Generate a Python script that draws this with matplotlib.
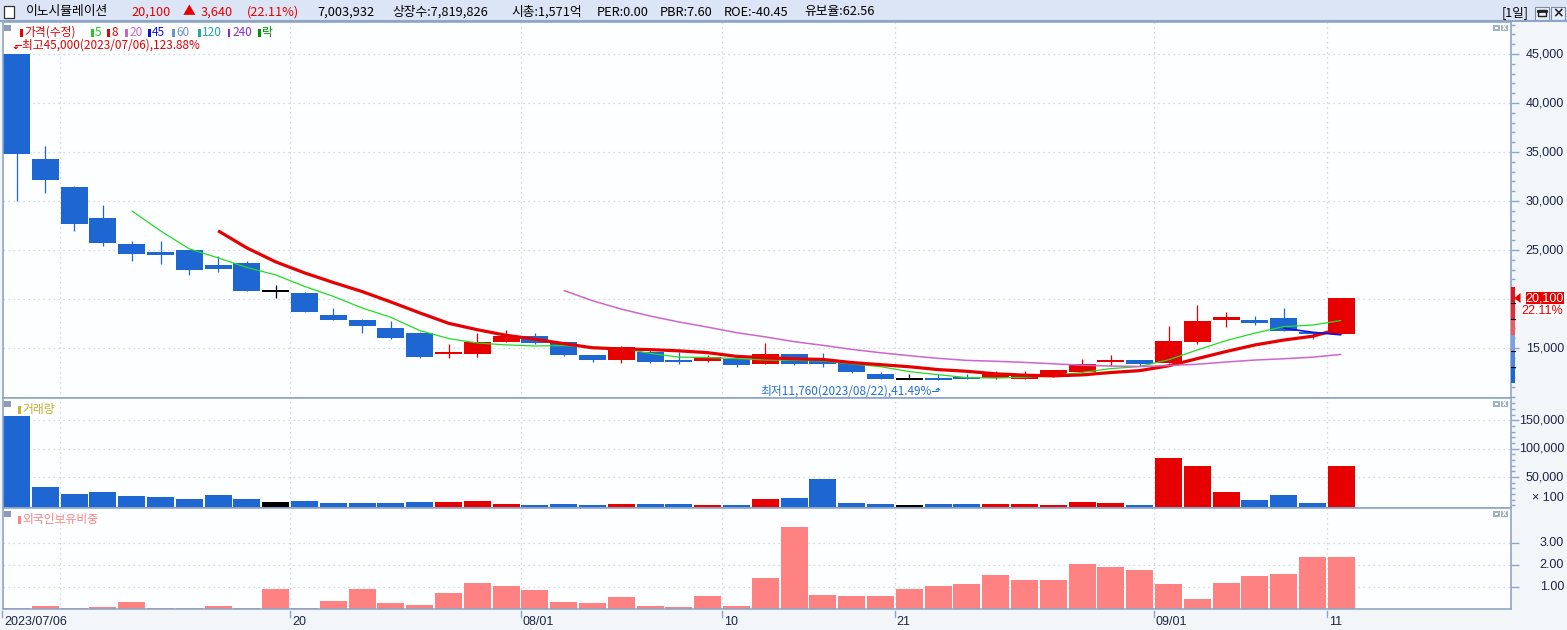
import matplotlib
matplotlib.use('Agg')
import matplotlib.pyplot as plt
from matplotlib.patches import Rectangle, Polygon
from matplotlib.lines import Line2D
from matplotlib.ticker import MultipleLocator, FixedLocator
from matplotlib.transforms import blended_transform_factory as blend
from matplotlib import font_manager as fm
import numpy as np
import pandas as pd

# ---------------- data ----------------
dates = ['07/06', '07/07', '07/10', '07/11', '07/12', '07/13', '07/14', '07/17', '07/18', '07/19',
         '07/20', '07/21', '07/24', '07/25', '07/26', '07/27', '07/28', '07/31', '08/01', '08/02',
         '08/03', '08/04', '08/07', '08/08', '08/09', '08/10', '08/11', '08/14', '08/16', '08/17',
         '08/18', '08/21', '08/22', '08/23', '08/24', '08/25', '08/28', '08/29', '08/30', '08/31',
         '09/01', '09/04', '09/05', '09/06', '09/07', '09/08', '09/11']
open_ = [45000, 34300, 31450, 28250, 25600, 24750, 25000, 23450, 23700, 20800,
         20600, 18350, 17850, 17050, 16550, 14400, 14350, 15650, 16200, 15600,
         14300, 13800, 14600, 13800, 13700, 13900, 13350, 14400, 13700, 13600,
         12350, 11850, 11950, 12050, 11950, 11850, 12000, 12550, 13600, 13800,
         13450, 15600, 17900, 17850, 18050, 16600, 16460]
high = [45000, 35600, 31550, 29600, 25900, 25900, 25000, 24400, 23900, 21400,
        20700, 19100, 17950, 17750, 16600, 15450, 16550, 16850, 16500, 15650,
        14300, 15200, 14800, 14600, 14300, 13900, 15500, 14400, 14500, 13700,
        12550, 12350, 12300, 12350, 12650, 12650, 12750, 13850, 14300, 13800,
        17250, 19400, 18650, 18250, 19100, 16600, 20100]
low = [30000, 30850, 26950, 25450, 23900, 23600, 22500, 22800, 20850, 20150,
       18700, 17900, 16550, 15950, 14000, 14000, 14100, 15600, 15450, 14200,
       13550, 13450, 13450, 13350, 13550, 13050, 13350, 13250, 13050, 12500,
       11850, 11850, 11760, 11800, 11850, 11850, 12000, 12450, 13150, 13150,
       13450, 15450, 17150, 17300, 16750, 15900, 16460]
close = [34850, 32150, 27700, 25750, 24600, 24550, 23000, 23100, 20850, 20800,
         18700, 17900, 17200, 16050, 14100, 14600, 15600, 16250, 15500, 14300,
         13800, 15100, 13550, 13600, 14100, 13250, 14400, 13350, 13350, 12550,
         11850, 11850, 11800, 11850, 12350, 12250, 12750, 13350, 13800, 13400,
         15700, 17750, 18150, 17600, 16750, 16460, 20100]
volume = [158000, 32100, 19600, 23200, 16000, 14300, 10700, 17900, 10700, 5400,
          7100, 3600, 3600, 3600, 5400, 5400, 7100, 1800, 800, 1800,
          800, 1800, 1800, 1800, 800, 800, 10700, 13100, 46400, 3600,
          1800, 600, 1800, 1800, 1800, 1800, 1000, 5400, 3600, 800,
          83900, 69600, 23200, 8900, 17900, 3600, 70040]
foreign = [0.05, 0.12, 0.05, 0.08, 0.30, 0.05, 0.05, 0.12, 0.05, 0.90,
           0.05, 0.37, 0.90, 0.26, 0.17, 0.72, 1.18, 1.04, 0.85, 0.30,
           0.26, 0.53, 0.12, 0.08, 0.58, 0.12, 1.40, 3.71, 0.62, 0.58,
           0.58, 0.89, 1.03, 1.12, 1.53, 1.30, 1.30, 2.03, 1.89, 1.76,
           1.12, 0.44, 1.17, 1.48, 1.58, 2.35, 2.35]
ma_periods = [5, 8, 20, 45]
tick_dates = ['07/06', '07/20', '08/01', '08/10', '08/21', '09/01', '09/11']
tick_labels = ['2023/07/06', '20', '08/01', '10', '21', '09/01', '11']
grid_dates = ['07/10', '07/20', '08/01', '08/10', '08/21', '09/01', '09/11']
price_ticks = [15000, 20000, 25000, 30000, 35000, 40000, 45000]
price_labels = ['15,000', '', '25,000', '30,000', '35,000', '40,000', '45,000']
vol_ticks = [50000, 100000, 150000]
vol_labels = ['50,000', '100,000', '150,000']
fr_ticks = [1, 2, 3]
fr_labels = ['1.00', '2.00', '3.00']
stock_name = '이노시뮬레이션'
header_info = ['7,003,932', '상장수:7,819,826', '시총:1,571억', 'PER:0.00', 'PBR:7.60',
               'ROE:-40.45', '유보율:62.56']
legend_items = ['가격(수정)', '5', '8', '20', '45', '60', '120', '240', '락']

# ---------------- style ----------------
RED = '#e60000'
BLUE = '#1e66d2'
PINK = '#ff8282'
FRAME = '#8ea6c6'
GRID = '#c6ced9'
LABEL = '#1c2448'
KR = ['Noto Sans CJK KR', 'DejaVu Sans']
names = {f.name for f in fm.fontManager.ttflist}
if 'Liberation Sans Narrow' in names:
    NUM = ['Liberation Sans Narrow', 'DejaVu Sans']; NUMS = 10.5
else:
    NUM = ['Liberation Sans', 'DejaVu Sans']; NUMS = 9.0


def has_glyph(family, ch):
    try:
        from fontTools.ttLib import TTFont
        path = fm.findfont(family, fallback_to_default=False)
        return ord(ch) in TTFont(path, fontNumber=0).getBestCmap()
    except Exception:
        return False


W, H = 1567, 630
fig = plt.figure(figsize=(W / 100, H / 100), dpi=100)
fig.patch.set_facecolor('#f3f6f9')


def fx(x):
    return x / W


def fy(y):
    return 1 - y / H


def rect_px(x0, y0, x1, y1, **kw):
    r = Rectangle((fx(x0), fy(y1)), (x1 - x0) / W, (y1 - y0) / H, transform=fig.transFigure, **kw)
    fig.add_artist(r)
    return r


def line_px(x0, y0, x1, y1, **kw):
    fig.add_artist(Line2D([fx(x0), fx(x1)], [fy(y0), fy(y1)], transform=fig.transFigure, **kw))


X0, X1 = 3, 1511
SLOT = 28.8
XC0 = 16.5
XL = (X0 - XC0) / SLOT
XR = (X1 - XC0) / SLOT


def add_ax(y0, y1):
    return fig.add_axes([fx(X0), fy(y1), (X1 - X0) / W, (y1 - y0) / H])


ax_p = add_ax(22, 398)
ax_v = add_ax(398, 508)
ax_o = add_ax(508, 609)

n = len(dates)
x = np.arange(n)
pos = {d: i for i, d in enumerate(dates)}
grid_x = [pos[d] - 0.5 for d in grid_dates]

o = np.array(open_, float); c = np.array(close, float)
h = np.array(high, float); l = np.array(low, float)
cols = np.where(c > o, RED, np.where(c < o, BLUE, 'black'))

for ax in (ax_p, ax_v, ax_o):
    ax.set_facecolor('#fdfeff')
    for s in ax.spines.values():
        s.set_color(FRAME); s.set_linewidth(1.2)
    ax.set_xlim(XL, XR)
    ax.set_xticks(grid_x)
    ax.tick_params(axis='x', length=0, labelbottom=False)
    ax.yaxis.tick_right()
    ax.tick_params(axis='y', which='both', direction='out', colors=FRAME, labelright=False, width=1)
    ax.tick_params(axis='y', which='major', length=6)
    ax.tick_params(axis='y', which='minor', length=3)
    ax.grid(True, which='major', color=GRID, linestyle=(0, (1, 3)), linewidth=0.9)
    ax.set_axisbelow(True)

# ---- price panel ----
ax_p.set_ylim(9900, 48270)
ax_p.yaxis.set_major_locator(FixedLocator(price_ticks))
ax_p.yaxis.set_minor_locator(MultipleLocator(1000))
ax_p.vlines(x, l, h, colors=cols, lw=0.9, zorder=2)
body_h = np.abs(c - o)
min_h = 220
bh = np.maximum(body_h, min_h)
ax_p.bar(x, bh, bottom=np.minimum(o, c) - (bh - body_h) / 2, width=0.94, color=cols, linewidth=0, zorder=2)

s = pd.Series(c)
ma_style = {5: ('#22dd22', 0.9), 8: (RED, 2.3), 20: ('#cc66cc', 1.1), 45: ('#1010e0', 1.2)}
for p in ma_periods:
    col, lw = ma_style[p]
    ax_p.plot(x, s.rolling(p).mean(), color=col, lw=lw, zorder=3, solid_capstyle='butt')

# high / low annotations
ih = int(np.argmax(h)); il = int(np.argmin(l))
last = c[-1]
arr_dn = '⬐' if has_glyph('DejaVu Sans', '⬐') else '↓'
arr_up = '⬏' if has_glyph('DejaVu Sans', '⬏') else '↑'
ax_p.annotate(f'{arr_dn}최고{h[ih]:,.0f}(2023/{dates[ih]}),{(h[ih] - last) / last * 100:.2f}%',
              xy=(ih, h[ih]), xytext=(-4, 9), textcoords='offset pixels', ha='left', va='center',
              color=RED, fontsize=8.5, family=KR, annotation_clip=False)
ax_p.annotate(f'최저{l[il]:,.0f}(2023/{dates[il]}),{(last - l[il]) / last * 100:.2f}%{arr_up}',
              xy=(il, l[il]), xytext=(3, -11), textcoords='offset pixels', ha='right', va='center',
              color='#2a6fd0', fontsize=8.5, family=KR, annotation_clip=False)

# ---- volume ----
VB = -4700
ax_v.set_ylim(VB, 189500)
ax_v.yaxis.set_major_locator(FixedLocator(vol_ticks))
ax_v.yaxis.set_minor_locator(MultipleLocator(10000))
v = np.array(volume, float)
ax_v.bar(x, v - VB, bottom=VB, width=0.94, color=cols, linewidth=0, zorder=2)

# ---- foreign ownership ----
ax_o.set_ylim(0, 4.56)
ax_o.yaxis.set_major_locator(FixedLocator(fr_ticks))
ax_o.yaxis.set_minor_locator(FixedLocator([]))
ax_o.bar(x, foreign, width=0.94, color=PINK, linewidth=0, zorder=2)

# ---- right axis labels ----
XLAB = (1564 - X0) / (X1 - X0)
for ax, tks, labs in ((ax_p, price_ticks, price_labels), (ax_v, vol_ticks, vol_labels),
                      (ax_o, fr_ticks, fr_labels)):
    tr = blend(ax.transAxes, ax.transData)
    for t, lab in zip(tks, labs):
        if lab:
            ax.text(XLAB, t, lab, transform=tr, ha='right', va='center', color=LABEL,
                    fontsize=NUMS, family=NUM, clip_on=False)
ax_v.text(XLAB, 0.09, '× 100', transform=ax_v.transAxes, ha='right', va='center', color=LABEL,
          fontsize=NUMS, family=NUM, clip_on=False)

# ---- x labels ----
trx = blend(ax_o.transData, ax_o.transAxes)
for d, lab in zip(tick_dates, tick_labels):
    xi = pos[d] - 0.5
    ax_o.plot([xi, xi], [-0.02, -0.075], color=FRAME, lw=1, transform=trx, clip_on=False)
    ax_o.text(xi + 0.06, -0.13, lab, transform=trx, ha='left', va='center', color=LABEL,
              fontsize=NUMS, family=NUM, clip_on=False)

# ---- header ----
rect_px(0, 0, W, 21, facecolor='#dbe5f5', edgecolor='none', zorder=0)
line_px(0, 21, W, 21, color=FRAME, lw=1.5)
rect_px(4, 6, 14, 18, facecolor='white', edgecolor='#303030', lw=0.9)
chg = last - c[-2]
hdr = [(26, stock_name, 'black'), (131, f'{last:,.0f}', RED), (183, '▲', RED),
       (201, f'{chg:,.0f}', RED), (247, f'({chg / c[-2] * 100:.2f}%)', RED)]
hx = [317, 392, 511, 597, 660, 724, 804]
hdr += [(xx, t, 'black') for xx, t in zip(hx, header_info)]
for xx, t, col in hdr:
    fig.text(fx(xx), fy(12), t, ha='left', va='center', color=col, fontsize=9.2, family=KR)
fig.text(fx(1502), fy(12.5), '[1일]', ha='left', va='center', color='black', fontsize=9, family=KR)
for bx in (1535, 1551):
    rect_px(bx, 7, bx + 14, 20, facecolor='#e8eef8', edgecolor='#7a8aa4', lw=0.8)
rect_px(1538, 10, 1546, 16, facecolor='none', edgecolor='#202020', lw=1.0)
line_px(1538, 10.5, 1546, 10.5, color='#202020', lw=2)
fig.text(fx(1558), fy(13.5), '×', ha='center', va='center', fontsize=10, weight='bold', color='#202020')

# ---- panel decorations ----
for top in (22, 398, 508):
    rect_px(4, top + 3, 11, top + 9, facecolor='#8c9cb8', edgecolor='none')
    for bx in (1493, 1501):
        rect_px(bx, top + 3, bx + 7, top + 9, facecolor='#a3afc2', edgecolor='none')
    rect_px(1495, top + 5, 1498, top + 7, facecolor='white', edgecolor='none')
    fig.text(fx(1504.5), fy(top + 6), 'x', ha='center', va='center', fontsize=5.5, color='white',
             weight='bold')

# price legend
leg_cols = [RED, '#22cc22', RED, '#cc66cc', '#1010e0', '#6f93c0', '#2aa6a0', '#8a2ad0', '#009000']
leg_x = [20, 91, 107, 125, 148, 172, 198, 228, 258]
for xx, t, col in zip(leg_x, legend_items, leg_cols):
    rect_px(xx, 29, xx + 2.5, 37, facecolor=col, edgecolor='none')
    fig.text(fx(xx + 4), fy(32.5), t, ha='left', va='center', color=col, fontsize=8.5, family=KR)

rect_px(18, 406, 20.5, 414, facecolor='#c8b432', edgecolor='none')
fig.text(fx(22), fy(409.5), '거래량', ha='left', va='center', color='#c0ae30', fontsize=8.5, family=KR)
rect_px(18, 516, 20.5, 524, facecolor=PINK, edgecolor='none')
fig.text(fx(22), fy(519.5), '외국인보유비중', ha='left', va='center', color=PINK, fontsize=8.5, family=KR)

# current price marker on right axis
seg = [(287, 303, '#e8101a'), (303, 319, '#e82a2a'), (319, 335, '#f05a5a'),
       (335, 351, '#78a2e6'), (351, 367, '#4a86dc'), (367, 383, '#1e64d2')]
for y0, y1, col in seg:
    rect_px(1511, y0, 1514.5, y1, facecolor=col, edgecolor='none')
for yy in (303, 319, 351, 367):
    line_px(1511, yy, 1515, yy, color='black', lw=0.8)
ypx = fig.transFigure.inverted().transform(ax_p.transData.transform((0, last)))[1]
ypix = (1 - ypx) * H
fig.add_artist(Polygon([[fx(1514.5), fy(ypix)], [fx(1520.5), fy(ypix - 5)], [fx(1520.5), fy(ypix + 5)]],
                       closed=True, transform=fig.transFigure, facecolor=RED, edgecolor='none'))
rect_px(1526, ypix - 6, 1564, ypix + 6, facecolor=RED, edgecolor='none')
fig.text(fx(1563.5), fy(ypix), f'{last:,.0f}', ha='right', va='center', color='white',
         fontsize=NUMS, family=NUM)
rect_px(1526, ypix + 7, 1564, ypix + 19, facecolor='white', edgecolor='none')
fig.text(fx(1563.5), fy(ypix + 13), f'{chg / c[-2] * 100:.2f}%', ha='right', va='center', color=RED,
         fontsize=NUMS, family=NUM)

fig.savefig('out.png', dpi=100, facecolor=fig.get_facecolor())
